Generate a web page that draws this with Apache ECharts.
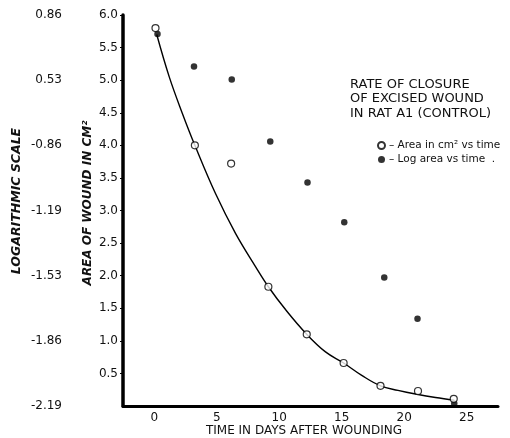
<!DOCTYPE html>
<html>
<head>
<meta charset="utf-8">
<script src="https://cdn.jsdelivr.net/npm/echarts@6/dist/echarts.min.js"></script>
<style>
  html, body { margin: 0; padding: 0; background: #fff; }
  #main { width: 510px; height: 438px; }
</style>
</head>
<body>
<div id="main"></div>
<script>
// open circles: area in cm2 vs time
var areaDays = [0.1, 3.25, 6.15, 9.13, 12.2, 15.15, 18.1, 21.1, 23.96];
var areaValues = [5.80, 4.00, 3.72, 1.83, 1.10, 0.66, 0.31, 0.23, 0.11];
// filled circles: log area vs time
var logDays = [0.26, 3.18, 6.2, 9.28, 12.26, 15.2, 18.4, 21.06, 24.0];
var logValues = [5.71, 5.21, 5.01, 4.06, 3.43, 2.82, 1.97, 1.34, 0.04];
// hand drawn curve
var curveDays = [0.2, 1.2, 2.25, 3.25, 4.9, 6.5, 8.1, 9.13, 10.5, 12.2, 13.7, 15.15, 16.6, 18.1, 19.5, 21, 22.5, 24];
var curveValues = [5.70, 5.05, 4.49, 4.00, 3.26, 2.65, 2.14, 1.83, 1.48, 1.10, 0.83, 0.66, 0.47, 0.31, 0.24, 0.18, 0.13, 0.09];
// left "logarithmic scale" labels, for y = 0..6
var logLabels = ['-2.19', '-1.86', '-1.53', '-1.19', '-0.86', '0.53', '0.86'];
var xLabels = [0, 5, 10, 15, 20, 25];

function pairs(xs, ys) {
    return xs.map(function (x, i) { return [x, ys[i]]; });
}

var font = 'DejaVu Sans';
var myChart = echarts.init(document.getElementById('main'));

myChart.setOption({
    animation: false,
    backgroundColor: '#fff',
    textStyle: { fontFamily: font, color: '#111' },
    title: {
        text: 'RATE OF CLOSURE\nOF EXCISED WOUND\nIN RAT A1 (CONTROL)',
        left: 345,
        top: 72,
        textStyle: { fontFamily: font, fontSize: 13, fontWeight: 'normal', lineHeight: 14.5, color: '#111' }
    },
    legend: {
        data: ['Area in cm² vs time', 'Log area vs time'],
        orient: 'vertical',
        left: 372,
        top: 135,
        itemGap: 3,
        itemWidth: 7,
        itemHeight: 7,
        formatter: function (name) {
            return name === 'Log area vs time' ? '– ' + name + '  .' : '– ' + name;
        },
        textStyle: { fontFamily: font, fontSize: 10.5, color: '#111', padding: [0, 0, 0, -1] }
    },
    grid: { left: 123, right: 12, top: 15, bottom: 32 },
    xAxis: {
        type: 'value',
        min: -2.5,
        max: 27.5,
        interval: 2.5,
        axisLine: { lineStyle: { color: '#000', width: 3 } },
        axisTick: { show: false },
        splitLine: { show: false },
        axisLabel: {
            margin: 6,
            fontSize: 12,
            color: '#111',
            formatter: function (v) {
                return xLabels.indexOf(v) >= 0 ? String(v) : '';
            }
        }
    },
    yAxis: [
        {
            type: 'value',
            min: 0,
            max: 6,
            interval: 0.5,
            axisLine: { show: true, onZero: false, lineStyle: { color: '#000', width: 3.5 } },
            axisTick: { show: true, length: 3, lineStyle: { color: '#000', width: 1 } },
            splitLine: { show: false },
            axisLabel: {
                margin: 5,
                fontSize: 12,
                color: '#111',
                showMinLabel: false,
                formatter: function (v) { return v.toFixed(1); }
            }
        },
        {
            type: 'value',
            position: 'left',
            offset: 53,
            min: 0,
            max: 6,
            interval: 1,
            axisLine: { show: false, onZero: false },
            axisTick: { show: false },
            splitLine: { show: false },
            axisLabel: {
                margin: 8,
                fontSize: 12,
                color: '#111',
                formatter: function (v) { return logLabels[v]; }
            }
        }
    ],
    graphic: [
        {
            type: 'text',
            x: 17,
            y: 201,
            rotation: Math.PI / 2,
            style: {
                text: 'LOGARITHMIC SCALE',
                font: 'italic bold 12.5px "DejaVu Sans"',
                fill: '#111',
                align: 'center',
                verticalAlign: 'middle'
            }
        },
        {
            type: 'text',
            x: 88,
            y: 203,
            rotation: Math.PI / 2,
            style: {
                text: 'AREA OF WOUND IN CM²',
                font: 'italic bold 12px "DejaVu Sans"',
                fill: '#111',
                align: 'center',
                verticalAlign: 'middle'
            }
        },
        {
            type: 'text',
            x: 304,
            y: 431,
            style: {
                text: 'TIME IN DAYS AFTER WOUNDING',
                font: '12px "DejaVu Sans"',
                fill: '#111',
                align: 'center',
                verticalAlign: 'middle'
            }
        }
    ],
    series: [
        {
            name: 'curve',
            type: 'line',
            smooth: 0.4,
            showSymbol: false,
            data: pairs(curveDays, curveValues),
            lineStyle: { color: '#000', width: 1.4 },
            z: 1
        },
        {
            name: 'Log area vs time',
            type: 'scatter',
            symbol: 'circle',
            symbolSize: 6.5,
            data: pairs(logDays, logValues),
            itemStyle: { color: '#000' },
            z: 2
        },
        {
            name: 'Area in cm² vs time',
            type: 'scatter',
            symbol: 'circle',
            symbolSize: 7,
            data: pairs(areaDays, areaValues),
            itemStyle: { color: '#fff', borderColor: '#000', borderWidth: 1.2 },
            z: 3
        }
    ]
});
</script>
</body>
</html>
